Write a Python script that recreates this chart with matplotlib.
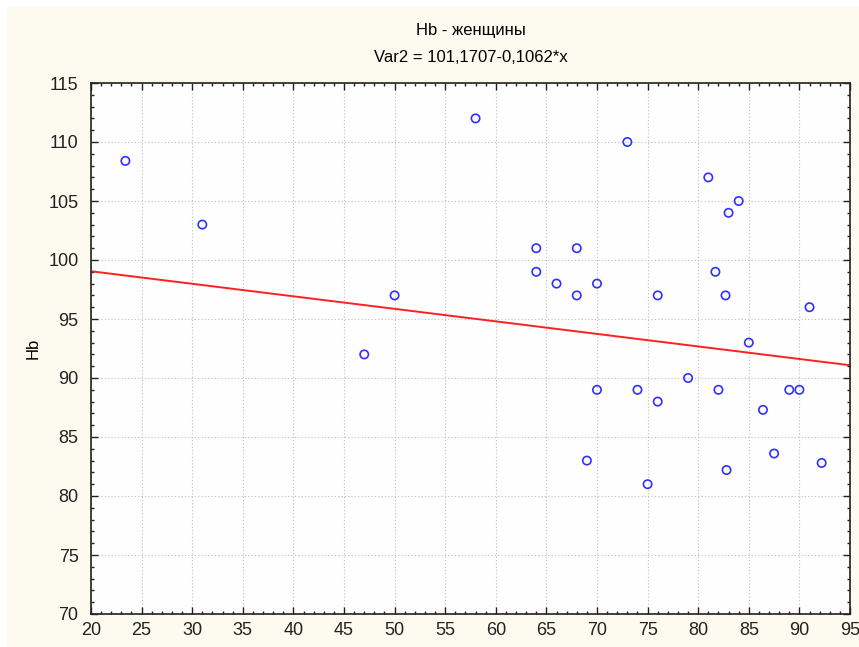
import matplotlib
matplotlib.use('Agg')
import matplotlib.pyplot as plt
import numpy as np
from matplotlib.ticker import MultipleLocator
from matplotlib.patches import Rectangle

plt.rcParams['font.family'] = ['Liberation Sans', 'DejaVu Sans']

# Hb - women, scatter data
age = [23.4, 31, 47, 50, 58, 64, 64, 66, 68, 68, 70, 69, 70, 73, 74, 75, 76,
       76, 79, 81, 81.7, 82, 82.7, 82.8, 83, 84, 85, 86.4, 87.5, 89, 90, 91, 92.2]
hb = [108.4, 103, 92, 97, 112, 101, 99, 98, 101, 97, 98, 83, 89, 110, 89, 81, 97,
      88, 90, 107, 99, 89, 97, 82.2, 104, 105, 93, 87.3, 83.6, 89, 89, 96, 82.8]

# regression line Var2 = 101,1707 - 0,1062*x
intercept = 101.1707
slope = -0.1062

fig = plt.figure(figsize=(8.59, 6.47), dpi=100)
fig.patch.set_facecolor('white')
bg = Rectangle((7 / 859, 0), 1, 1 - 7 / 647, transform=fig.transFigure,
               facecolor='#fdfbf0', edgecolor='none', zorder=-10)
fig.add_artist(bg)

ax = fig.add_axes([91 / 859, 1 - 614 / 647, (850 - 91) / 859, (614 - 83) / 647])
ax.set_zorder(5)
ax.set_facecolor('#fefefe')

ax.scatter(age, hb, s=36, facecolors='none', edgecolors='#3030ff', linewidths=1.2, zorder=3)
xs = np.array([20, 95])
ax.plot(xs, intercept + slope * xs, color='#ff2020', linewidth=1.4, zorder=2)

ax.set_xlim(20, 95)
ax.set_ylim(70, 115)
ax.xaxis.set_major_locator(MultipleLocator(5))
ax.xaxis.set_minor_locator(MultipleLocator(1))
ax.yaxis.set_major_locator(MultipleLocator(5))
ax.yaxis.set_minor_locator(MultipleLocator(1))
ax.tick_params(which='both', direction='in', top=True, right=True, labelsize=13, colors='#222222')
ax.tick_params(which='major', length=5, width=1)
ax.tick_params(which='minor', length=2.5, width=1)
ax.tick_params(axis='y', which='major', pad=9)
ax.tick_params(axis='x', which='major', pad=6)
ax.grid(True, which='major', linestyle=(0, (1, 2)), color='#bdbdbd', linewidth=0.8)
for sp in ax.spines.values():
    sp.set_color('#222222')
    sp.set_linewidth(1.2)

ax.set_ylabel('Hb', fontsize=12)
ax.yaxis.set_label_coords(-0.067, 0.5)
fig.text(0.5 * (91 + 850) / 859, 1 - 30 / 647, 'Hb - женщины', ha='center', va='center', fontsize=12)
fig.text(0.5 * (91 + 850) / 859, 1 - 58 / 647, 'Var2 = 101,1707-0,1062*x', ha='center', va='center', fontsize=12)

fig.savefig('out.png', dpi=100, facecolor=fig.get_facecolor())
